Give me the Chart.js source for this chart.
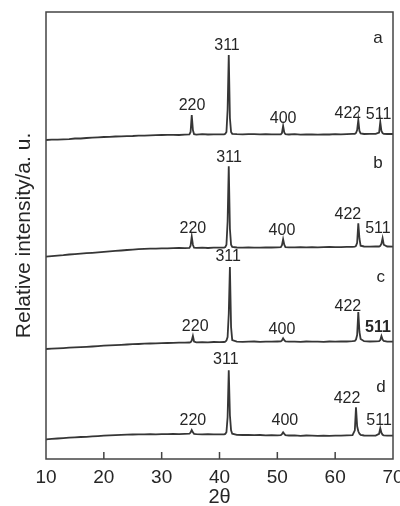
<!DOCTYPE html>
<html>
<head>
<meta charset="utf-8">
<script src="https://cdn.jsdelivr.net/npm/chart.js@4"></script>
<style>
  html, body { margin: 0; padding: 0; background: #fff; }
</style>
</head>
<body>
<canvas id="xrdChart" width="400" height="506"></canvas>
<script>
// 2θ grid shared by the four patterns (denser around the reflections)
const twoTheta = [
  10, 11, 12, 13, 14, 15, 16, 17, 18, 19,
  20, 21, 22, 23, 24, 25, 26, 27, 28, 29,
  30, 31, 32, 33, 34, 34.8, 35.0, 35.2, 35.4, 35.6,
  36, 37, 38, 39, 40, 40.8, 41.0, 41.2, 41.4, 41.6,
  41.8, 42.0, 42.2, 43, 44, 45, 46, 47, 48, 49,
  50, 50.6, 50.8, 51.0, 51.2, 51.4, 52, 53, 54, 55,
  56, 57, 58, 59, 60, 61, 62, 63, 63.4, 63.6,
  63.8, 64.0, 64.2, 64.4, 65, 66, 67, 67.6, 67.8, 68.0,
  68.2, 68.4, 69, 70
];

const sampleNames = ['a', 'b', 'c', 'd'];
// vertical shift of each pattern in the stack
const baseOffsets = [319, 202.3, 110, 19.7];

const intensityA = [
  0, 0.3, 0.4, 0.7, 0.9, 1.5, 1.5, 2.0, 2.3, 2.6,
  3.0, 3.1, 3.5, 3.6, 3.9, 4.0, 4.3, 4.3, 4.7, 4.8,
  5.0, 5.1, 5.2, 5.0, 5.4, 5.6, 8, 25, 10, 5.8,
  5.4, 5.8, 5.5, 5.6, 5.7, 5.7, 6.2, 8, 30, 85,
  22, 8, 6.2, 5.8, 5.6, 5.9, 5.8, 5.6, 5.9, 5.7,
  5.6, 5.7, 7, 14, 7.5, 5.8, 5.5, 5.8, 5.3, 5.5,
  5.7, 5.4, 5.6, 5.5, 5.8, 5.6, 5.9, 6.1, 6.2, 7,
  10, 20, 9, 6.5, 6, 6.2, 6.1, 7.5, 18, 9,
  6.8, 6.2, 6, 6
];
const intensityB = [
  0, 0.6, 1.1, 1.5, 2.2, 2.6, 3.0, 3.5, 3.9, 4.4,
  4.9, 5.3, 5.8, 6.2, 6.7, 7.1, 7.5, 7.8, 8.0, 8.1,
  8.4, 8.3, 8.6, 8.7, 8.6, 8.8, 11, 20, 12, 9,
  8.8, 9.0, 8.7, 9.1, 9.0, 9.1, 9.6, 12, 35, 90.5,
  28, 12, 9.8, 9.2, 9.0, 9.3, 9.1, 9.0, 9.4, 9.2,
  9.3, 9.5, 11.5, 17.5, 12, 9.6, 9.3, 9.4, 9.5, 9.3,
  9.6, 9.4, 9.5, 9.7, 9.5, 9.6, 9.8, 9.9, 10, 10.8,
  14, 33.5, 18, 11, 10.2, 10, 10.3, 10.2, 10.8, 13,
  18.5, 12, 10.2, 10
];
const intensityC = [
  0, 0.3, 0.6, 0.9, 1.3, 1.6, 1.9, 2.2, 2.5, 2.9,
  3.3, 3.6, 3.9, 4.2, 4.5, 4.8, 5.0, 5.3, 5.5, 5.7,
  5.9, 6.0, 6.2, 6.3, 6.4, 6.5, 6.8, 8.5, 13, 7.5,
  6.6, 6.8, 6.7, 7.0, 6.9, 7.0, 7.3, 8.5, 12, 35,
  82, 22, 9, 7.4, 7.2, 7.3, 7.5, 7.2, 7.4, 7.3,
  7.5, 7.6, 8.5, 10.7, 8.8, 7.6, 7.3, 7.4, 7.2, 7.5,
  7.3, 7.4, 7.2, 7.5, 7.4, 7.6, 7.5, 7.8, 8.2, 9.5,
  14, 37, 17, 10, 7.8, 7.5, 7.6, 7.8, 9, 13,
  9.5, 8, 7.4, 7.3
];
const intensityD = [
  0, 0.4, 0.8, 1.2, 1.6, 2.0, 2.3, 2.5, 2.9, 3.2,
  3.6, 3.9, 4.2, 4.4, 4.7, 4.8, 5.0, 4.9, 5.1, 5.0,
  5.2, 5.1, 5.3, 5.2, 5.4, 5.6, 6.8, 9.3, 7, 5.5,
  5.2, 5.0, 5.1, 4.9, 5.0, 5.0, 5.4, 7, 22, 69,
  24, 9, 5.6, 4.5, 4.3, 4.4, 4.1, 4.3, 4.0, 4.2,
  4.0, 4.2, 5.2, 7, 5.4, 4.1, 3.8, 4.0, 3.5, 3.8,
  3.6, 3.4, 3.7, 3.5, 3.7, 3.6, 3.9, 4.2, 9, 32,
  13, 8, 5.5, 4.5, 3.8, 3.6, 3.7, 5.5, 11, 6.5,
  4.5, 3.9, 3.6, 3.6
];
const intensities = [intensityA, intensityB, intensityC, intensityD];

const xTicks = [10, 20, 30, 40, 50, 60, 70];

// reflection labels: [text, 2θ, stacked value, bold]
const peakLabels = [
  ['311', 41.3, 409], ['220', 35.25, 349], ['400', 51.0, 336], ['422', 62.2, 341], ['511', 67.5, 340.5],
  ['311', 41.65, 297], ['220', 35.4, 226], ['400', 50.8, 224], ['422', 62.2, 240], ['511', 67.4, 226],
  ['311', 41.5, 198], ['220', 35.8, 128], ['400', 50.8, 125], ['422', 62.2, 148], ['511', 67.4, 127, true],
  ['311', 41.1, 95], ['220', 35.4, 34], ['400', 51.3, 34], ['422', 62.05, 56], ['511', 67.6, 34]
];
// where the sample letters sit: [2θ, stacked value]
const sampleLabelPos = [[67.4, 416], [67.4, 291], [67.9, 177], [67.9, 67]];

const FONT = "'Liberation Sans', Arial, sans-serif";
const INK = '#262626';

const frameAndLabels = {
  id: 'frameAndLabels',
  afterDatasetsDraw(chart) {
    const { ctx, chartArea: area, scales: { x, y } } = chart;
    ctx.save();
    ctx.strokeStyle = '#444';
    ctx.lineWidth = 1.5;
    ctx.strokeRect(area.left, area.top, area.right - area.left, area.bottom - area.top);

    // inward tick marks on the 2θ axis
    ctx.beginPath();
    xTicks.slice(1, -1).forEach(v => {
      const px = x.getPixelForValue(v);
      ctx.moveTo(px, area.bottom);
      ctx.lineTo(px, area.bottom - 7);
    });
    ctx.stroke();

    ctx.fillStyle = INK;
    ctx.textAlign = 'center';
    ctx.textBaseline = 'alphabetic';
    peakLabels.forEach(([text, t, v, bold]) => {
      ctx.font = (bold ? 'bold ' : '') + '16px ' + FONT;
      ctx.fillText(text, x.getPixelForValue(t), y.getPixelForValue(v));
    });
    ctx.font = '17px ' + FONT;
    sampleNames.forEach((name, i) => {
      const [t, v] = sampleLabelPos[i];
      ctx.fillText(name, x.getPixelForValue(t), y.getPixelForValue(v));
    });
    ctx.restore();
  }
};

const datasets = intensities.map((series, i) => ({
  label: sampleNames[i],
  data: twoTheta.map((t, j) => ({ x: t, y: baseOffsets[i] + series[j] })),
  borderColor: '#363636',
  borderWidth: 1.8,
  pointRadius: 0,
  tension: 0,
  fill: false
}));

new Chart(document.getElementById('xrdChart').getContext('2d'), {
  type: 'line',
  data: { datasets },
  options: {
    responsive: false,
    animation: false,
    layout: { autoPadding: false, padding: { top: 12, right: 7, left: 0, bottom: 0 } },
    plugins: {
      legend: { display: false },
      tooltip: { enabled: false }
    },
    scales: {
      x: {
        type: 'linear',
        min: 10,
        max: 70,
        afterFit: axis => {
          axis.height = 47;
          axis.paddingLeft = 0;
          axis.paddingRight = 0;
        },
        afterBuildTicks: axis => { axis.ticks = xTicks.map(v => ({ value: v })); },
        grid: { display: false },
        border: { display: false },
        ticks: { color: INK, padding: -1, font: { family: FONT, size: 19 } },
        title: {
          display: true,
          text: '2θ',
          color: INK,
          padding: { top: 0, bottom: 0 },
          font: { family: FONT, size: 20, lineHeight: 0.9 }
        }
      },
      y: {
        min: 0,
        max: 447,
        afterFit: axis => { axis.width = 46; },
        grid: { display: false },
        border: { display: false },
        ticks: { display: false },
        title: {
          display: true,
          text: 'Relative intensity/a. u.',
          color: INK,
          padding: { top: 12, bottom: 0 },
          font: { family: FONT, size: 21 }
        }
      }
    }
  },
  plugins: [frameAndLabels]
});
</script>
</body>
</html>
